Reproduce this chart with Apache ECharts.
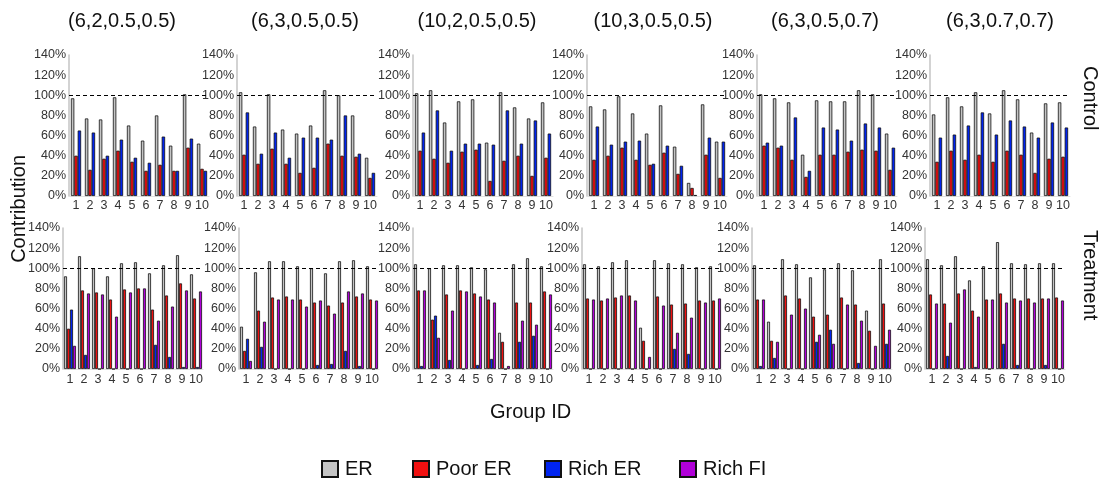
<!DOCTYPE html>
<html>
<head>
<meta charset="utf-8">
<script src="https://cdn.jsdelivr.net/npm/echarts@6/dist/echarts.min.js"></script>
<style>
  html, body { margin: 0; padding: 0; background: #fff; }
  #chart { width: 1109px; height: 486px; }
</style>
</head>
<body>
<div id="chart"></div>
<script>
// Group IDs on every panel's x axis
const categories = ['1', '2', '3', '4', '5', '6', '7', '8', '9', '10'];

// Parameter set shown above each column of panels
const panelTitles = ['(6,2,0.5,0.5)', '(6,3,0.5,0.5)', '(10,2,0.5,0.5)', '(10,3,0.5,0.5)', '(6,3,0.5,0.7)', '(6,3,0.7,0.7)'];

// Control row: contribution (%) per group, one row per parameter set
const controlER = [
  [97, 77, 76, 98, 70, 55, 80, 50, 101, 52],
  [103, 69, 101, 66, 62, 70, 105, 100, 80, 38],
  [102, 105, 73, 94, 96, 53, 103, 88, 77, 93],
  [89, 86, 99, 82, 62, 90, 49, 13, 91, 54],
  [101, 97, 93, 41, 95, 94, 94, 105, 101, 62],
  [81, 98, 89, 103, 82, 105, 96, 63, 92, 93]
];
const controlPoorER = [
  [40, 26, 37, 45, 34, 25, 31, 25, 48, 27],
  [41, 32, 47, 32, 23, 28, 52, 40, 39, 18],
  [45, 37, 33, 44, 46, 15, 35, 40, 20, 38],
  [36, 40, 48, 36, 31, 43, 22, 8, 41, 18],
  [50, 48, 36, 19, 41, 41, 44, 46, 45, 26],
  [34, 45, 36, 41, 34, 45, 41, 23, 37, 39]
];
const controlRichER = [
  [65, 63, 40, 56, 38, 33, 59, 25, 57, 25],
  [83, 42, 63, 38, 58, 58, 56, 80, 42, 23],
  [63, 85, 45, 52, 52, 51, 85, 52, 75, 62],
  [69, 51, 54, 55, 32, 50, 30, 1, 58, 54],
  [53, 50, 78, 25, 68, 66, 55, 72, 68, 48],
  [58, 61, 70, 83, 61, 75, 69, 58, 73, 68]
];

// Treatment row
const treatmentER = [
  [92, 112, 100, 92, 105, 106, 95, 103, 113, 94],
  [42, 96, 107, 107, 102, 100, 95, 107, 108, 102],
  [104, 100, 103, 103, 101, 99, 36, 104, 110, 102],
  [104, 102, 106, 108, 41, 108, 105, 104, 101, 102],
  [103, 47, 109, 104, 91, 99, 105, 98, 58, 109],
  [109, 103, 112, 88, 102, 126, 105, 104, 105, 105]
];
const treatmentPoorER = [
  [40, 78, 76, 69, 79, 80, 59, 73, 85, 70],
  [18, 58, 71, 72, 69, 66, 63, 66, 72, 69],
  [78, 49, 74, 78, 75, 69, 27, 66, 66, 77],
  [70, 68, 71, 73, 28, 72, 64, 65, 68, 68],
  [69, 28, 73, 70, 52, 54, 71, 64, 38, 65],
  [74, 65, 75, 58, 69, 75, 70, 70, 70, 71]
];
const treatmentRichER = [
  [59, 14, 0, 0, 0, 0, 24, 12, 2, 2],
  [30, 22, 0, 0, 0, 4, 5, 18, 3, 0],
  [3, 53, 9, 0, 4, 10, 0, 27, 33, 0],
  [0, 0, 0, 0, 0, 0, 20, 15, 0, 0],
  [3, 11, 0, 0, 27, 39, 0, 6, 0, 25],
  [0, 13, 0, 2, 0, 25, 4, 0, 4, 0]
];
const treatmentRichFI = [
  [23, 75, 74, 52, 76, 80, 48, 62, 78, 77],
  [8, 47, 69, 69, 62, 68, 55, 77, 75, 68],
  [78, 31, 58, 77, 72, 66, 3, 48, 44, 74],
  [69, 70, 73, 68, 12, 63, 36, 51, 66, 70],
  [69, 27, 54, 60, 34, 25, 64, 48, 23, 39],
  [65, 46, 79, 52, 69, 66, 68, 66, 70, 68]
];

const seriesNames = ['ER', 'Poor ER', 'Rich ER', 'Rich FI'];
const colors = {
  'ER': '#c4c4c4',
  'Poor ER': '#f01010',
  'Rich ER': '#0024f0',
  'Rich FI': '#b000d8'
};

// Plot-area placement of each panel (px)
const controlLeft = [69, 237, 413, 587, 757, 930];
const treatmentLeft = [63, 239, 413, 582, 752, 925];
const titleCenter = [117, 300, 472, 648, 820, 995];
const panelWidth = 140;
const rowTop = [55, 228];
const panelHeight = 141;

const tickFont = 'Liberation Sans, Arial, sans-serif';
const textFont = 'Liberation Sans, Arial, sans-serif';

const grids = [], xAxes = [], yAxes = [], series = [];

function addPanel(left, top, groups, barWidth, labelMargin) {
  const gi = grids.length;
  grids.push({ left: left, top: top, width: panelWidth, height: panelHeight });
  xAxes.push({
    type: 'category', gridIndex: gi, data: categories,
    axisLine: { show: true, lineStyle: { color: '#e0e0e0', width: 1 } },
    axisTick: { show: false },
    axisLabel: { interval: 0, fontSize: 12.5, color: '#333', fontFamily: tickFont, margin: labelMargin }
  });
  yAxes.push({
    type: 'value', gridIndex: gi, min: 0, max: 140, interval: 20,
    axisLine: { show: true, lineStyle: { color: '#c4c4c4', width: 1.5 } },
    axisTick: { show: false },
    splitLine: { show: false },
    axisLabel: { formatter: '{value}%', fontSize: 12.5, color: '#333', fontFamily: tickFont, margin: 3 }
  });
  groups.forEach(function (g, k) {
    const s = {
      type: 'bar', name: g.name, data: g.data,
      xAxisIndex: gi, yAxisIndex: gi,
      barWidth: barWidth, barGap: '0%',
      itemStyle: { color: colors[g.name], borderColor: '#111', borderWidth: 0.8 },
      silent: true, animation: false
    };
    if (k === 0) {
      // reference level at 100%
      s.markLine = {
        silent: true, symbol: 'none', animation: false,
        label: { show: false },
        lineStyle: { type: [4, 3], color: '#000', width: 1 },
        data: [{ yAxis: 100 }]
      };
    }
    series.push(s);
  });
}

for (let p = 0; p < 6; p++) {
  addPanel(controlLeft[p], rowTop[0], [
    { name: 'ER', data: controlER[p] },
    { name: 'Poor ER', data: controlPoorER[p] },
    { name: 'Rich ER', data: controlRichER[p] }
  ], 3.4, 3);
}
for (let p = 0; p < 6; p++) {
  addPanel(treatmentLeft[p], rowTop[1], [
    { name: 'ER', data: treatmentER[p] },
    { name: 'Poor ER', data: treatmentPoorER[p] },
    { name: 'Rich ER', data: treatmentRichER[p] },
    { name: 'Rich FI', data: treatmentRichFI[p] }
  ], 3.0, 4);
}

const titles = panelTitles.map(function (t, p) {
  return {
    text: t, left: titleCenter[p], top: 6, textAlign: 'center',
    textStyle: { fontSize: 20, fontWeight: 'normal', color: '#111', fontFamily: textFont }
  };
});

const legendLeft = [316, 407, 539, 674];
const legends = seriesNames.map(function (n, i) {
  return {
    data: [n], left: legendLeft[i], top: 454, orient: 'horizontal',
    itemWidth: 16, itemHeight: 16, itemGap: 8,
    icon: 'rect',
    textStyle: { fontSize: 20, color: '#111', fontFamily: textFont, padding: [0, 0, 0, 2] },
    selectedMode: false
  };
});

const chart = echarts.init(document.getElementById('chart'), null, { renderer: 'canvas' });
chart.setOption({
  backgroundColor: '#ffffff',
  animation: false,
  title: titles,
  legend: legends,
  grid: grids,
  xAxis: xAxes,
  yAxis: yAxes,
  series: series,
  graphic: [
    { type: 'text', left: 9, top: 155, rotation: Math.PI / 2,
      style: { text: 'Contribution', font: '20px ' + textFont, fill: '#111' } },
    { type: 'text', left: 490, top: 402,
      style: { text: 'Group ID', font: '20px ' + textFont, fill: '#111' } },
    { type: 'text', left: 1080, top: 66, rotation: -Math.PI / 2,
      style: { text: 'Control', font: '20px ' + textFont, fill: '#111' } },
    { type: 'text', left: 1080, top: 230, rotation: -Math.PI / 2,
      style: { text: 'Treatment', font: '20px ' + textFont, fill: '#111' } }
  ]
});
</script>
</body>
</html>
